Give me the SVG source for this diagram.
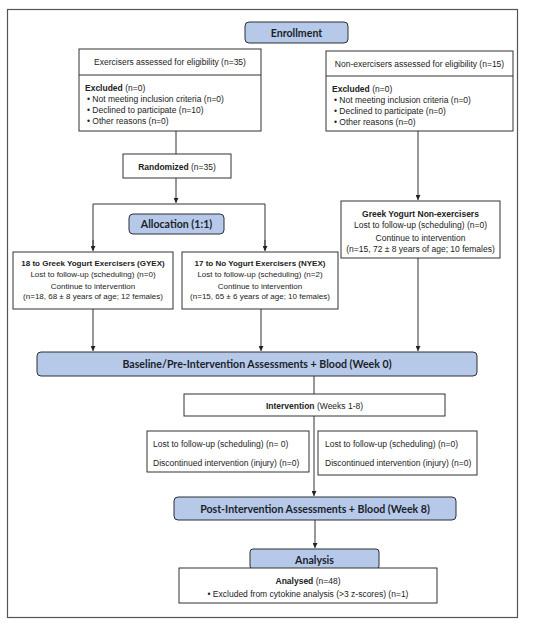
<svg xmlns="http://www.w3.org/2000/svg" width="550" height="626" viewBox="0 0 550 626">
<style>
.box{fill:#fff;stroke:#333;stroke-width:1}
.blue{fill:#b7c9e8;stroke:#2b2f36;stroke-width:1}
.t{font-family:"Liberation Sans",Arial,sans-serif;font-size:8.5px;fill:#222}
.s{font-size:8px}
.c{text-anchor:middle}
.b{font-weight:bold}
.h{font-family:Lato,"Open Sans",sans-serif;font-weight:bold;font-size:10.6px;fill:#1a1f2b;text-anchor:middle}
.ln{stroke:#333;stroke-width:1;fill:none}
</style>
<defs>
<marker id="ah" viewBox="0 0 6 6" refX="6" refY="3" markerWidth="5" markerHeight="5" orient="auto">
<path d="M0,0 L6,3 L0,6 z" fill="#222"/>
</marker>
</defs>
<rect x="7.5" y="9.5" width="510" height="608" fill="#fff" stroke="#555" stroke-width="1.2"/>

<g id="connectors">
<path class="ln" d="M176,131 V154"/>
<path class="ln" d="M176,178 V203" marker-end="url(#ah)"/>
<path class="ln" d="M93,250 V204 H265 V250" />
<path class="ln" d="M93,240 V251" marker-end="url(#ah)"/>
<path class="ln" d="M265,240 V251" marker-end="url(#ah)"/>
<path class="ln" d="M418,131 V200" marker-end="url(#ah)"/>
<path class="ln" d="M93,309 V351" marker-end="url(#ah)"/>
<path class="ln" d="M261,309 V351" marker-end="url(#ah)"/>
<path class="ln" d="M418,258 V351" marker-end="url(#ah)"/>
<path class="ln" d="M314,376 V496" marker-end="url(#ah)"/>
<path class="ln" d="M315,520 V548" marker-end="url(#ah)"/>
</g>

<g id="enrollment">
<rect class="blue" x="245" y="22" width="103" height="21" rx="4"/>
<text class="h" x="296.5" y="36.5">Enrollment</text>
</g>

<g id="exercisers">
<rect class="box" x="79" y="49" width="182" height="82"/>
<line class="ln" x1="79" y1="75" x2="261" y2="75"/>
<text class="t c" x="170" y="65">Exercisers assessed for eligibility (n=35)</text>
<text class="t" x="85" y="90.5"><tspan class="b">Excluded</tspan> (n=0)</text>
<text class="t" x="87" y="102">•  Not meeting inclusion criteria (n=0)</text>
<text class="t" x="87" y="113">•  Declined to participate (n=10)</text>
<text class="t" x="87" y="124">•  Other reasons (n=0)</text>
</g>

<g id="nonexercisers">
<rect class="box" x="326" y="51" width="187" height="80"/>
<line class="ln" x1="326" y1="76" x2="513" y2="76"/>
<text class="t c" x="419.5" y="66.5">Non-exercisers assessed for eligibility (n=15)</text>
<text class="t" x="332" y="91.5"><tspan class="b">Excluded</tspan> (n=0)</text>
<text class="t" x="334" y="102.5">•  Not meeting inclusion criteria (n=0)</text>
<text class="t" x="334" y="113.5">•  Declined to participate (n=0)</text>
<text class="t" x="334" y="124.5">•  Other reasons (n=0)</text>
</g>

<g id="randomized">
<rect class="box" x="123" y="154" width="108" height="24"/>
<text class="t c" x="177" y="170"><tspan class="b">Randomized</tspan> (n=35)</text>
</g>

<g id="allocation">
<rect class="blue" x="129" y="214" width="95" height="20" rx="4"/>
<text class="h" x="176.5" y="228">Allocation (1:1)</text>
</g>

<g id="gyex">
<rect class="box" x="13" y="252" width="160" height="57"/>
<text class="t s c b" x="93" y="265.5">18 to Greek Yogurt Exercisers (GYEX)</text>
<text class="t s c" x="93" y="277">Lost to follow-up (scheduling) (n=0)</text>
<text class="t s c" x="93" y="288.5">Continue to intervention</text>
<text class="t s c" x="93" y="299">(n=18, 68 ± 8 years of age; 12 females)</text>
</g>

<g id="nyex">
<rect class="box" x="182" y="252" width="156" height="57"/>
<text class="t s c b" x="260" y="265.5">17 to No Yogurt Exercisers (NYEX)</text>
<text class="t s c" x="260" y="277">Lost to follow-up (scheduling) (n=2)</text>
<text class="t s c" x="260" y="288.5">Continue to intervention</text>
<text class="t s c" x="260" y="299">(n=15, 65 ± 6 years of age; 10 females)</text>
</g>

<g id="gyne">
<rect class="box" x="341" y="201" width="159" height="57"/>
<text class="t c b" x="420.5" y="216.5">Greek Yogurt Non-exercisers</text>
<text class="t c" x="420.5" y="227.5">Lost to follow-up (scheduling) (n=0)</text>
<text class="t c" x="420.5" y="240.5">Continue to intervention</text>
<text class="t c" x="420.5" y="251.5">(n=15, 72 ± 8 years of age; 10 females)</text>
</g>

<g id="baseline">
<rect class="blue" x="37" y="352" width="440" height="24" rx="4"/>
<text class="h" x="257" y="367.5">Baseline/Pre-Intervention Assessments + Blood (Week 0)</text>
</g>

<g id="intervention">
<rect class="box" x="184" y="394" width="261" height="22"/>
<text class="t c" x="314.5" y="408.5"><tspan class="b">Intervention</tspan> (Weeks 1-8)</text>
</g>

<g id="lost-left">
<rect class="box" x="147" y="431" width="162" height="41"/>
<text class="t" x="153" y="446.5">Lost to follow-up (scheduling) (n= 0)</text>
<text class="t" x="153" y="465.5">Discontinued intervention (injury) (n=0)</text>
</g>

<g id="lost-right">
<rect class="box" x="318" y="431" width="159" height="44"/>
<text class="t" x="325" y="446.5">Lost to follow-up (scheduling) (n=0)</text>
<text class="t" x="325" y="465.5">Discontinued intervention (injury) (n=0)</text>
</g>

<g id="post">
<rect class="blue" x="174" y="497" width="282" height="23" rx="4"/>
<text class="h" x="315" y="512.5">Post-Intervention Assessments + Blood (Week 8)</text>
</g>

<g id="analysis">
<rect class="blue" x="250" y="549" width="129" height="20" rx="3"/>
<text class="h" x="314.5" y="563.5">Analysis</text>
</g>

<g id="analysed">
<rect class="box" x="179" y="568" width="258" height="35"/>
<text class="t c" x="308" y="583.5"><tspan class="b">Analysed</tspan> (n=48)</text>
<text class="t c" x="308" y="597">• Excluded from cytokine analysis (&gt;3 z-scores) (n=1)</text>
</g>
</svg>
